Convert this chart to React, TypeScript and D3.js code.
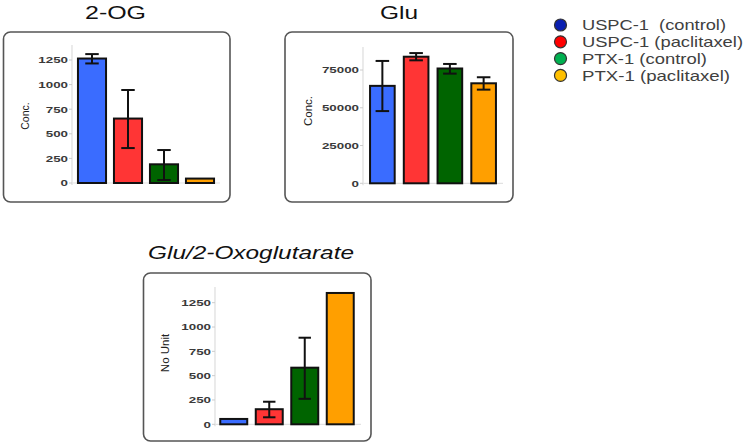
import React from "react";
import * as d3 from "d3";

const groups = ["USPC-1 (control)", "USPC-1 (paclitaxel)", "PTX-1 (control)", "PTX-1 (paclitaxel)"];
const legendLabels = ["USPC-1  (control)", "USPC-1 (paclitaxel)", "PTX-1 (control)", "PTX-1 (paclitaxel)"];
const legendColors = ["#0a1fb0", "#ff0000", "#00b050", "#ffc000"];
const barColors = ["#3a6cff", "#ff3535", "#006400", "#ff9f00"];

const ogMean = [1265, 655, 190, 45];
const ogLow = [1215, 355, 30, null];
const ogHigh = [1310, 945, 335, null];
const ogTicks = [0, 250, 500, 750, 1000, 1250];

const gluMean = [64500, 83800, 76000, 66200];
const gluLow = [47800, 81400, 72600, 62000];
const gluHigh = [81000, 86200, 79000, 70200];
const gluTicks = [0, 25000, 50000, 75000];

const ratioMean = [55, 155, 582, 1350];
const ratioLow = [null, 72, 262, null];
const ratioHigh = [null, 232, 890, null];
const ratioTicks = [0, 250, 500, 750, 1000, 1250];

const FONT = "Liberation Sans, Arial, sans-serif";

type PanelProps = {
  title: string;
  italic?: boolean;
  titleX: number;
  titleW: number;
  titleY: number;
  box: [number, number, number, number];
  axisX: number;
  y0: number;
  yTopTick: number;
  topTickValue: number;
  axisTop: number;
  bandRange: [number, number];
  padInner: number;
  padOuter: number;
  mean: number[];
  low: (number | null)[];
  high: (number | null)[];
  ticks: number[];
  ylabel: string;
  ylabelX: number;
  ylabelY: number;
  ylabelSize: number;
  gridEnd: number;
  capFrac: number;
};

function Panel(p: PanelProps) {
  const y = d3.scaleLinear().domain([0, p.topTickValue]).range([p.y0, p.yTopTick]);
  const x = d3.scaleBand<string>().domain(groups).range(p.bandRange).paddingInner(p.padInner).paddingOuter(p.padOuter);
  const bw = x.bandwidth();
  const [bx, by, bwid, bh] = p.box;
  return (
    <g>
      <text x={p.titleX} y={p.titleY} textLength={p.titleW} lengthAdjust="spacingAndGlyphs" fontFamily={FONT} fontSize={19} fontStyle={p.italic ? "italic" : "normal"} fill="#111">{p.title}</text>
      <rect x={bx} y={by} width={bwid} height={bh} rx={7} ry={7} fill="#fff" stroke="#555" strokeWidth={1.6} />
      <line x1={p.axisX} x2={p.axisX} y1={p.axisTop} y2={p.y0 + 2} stroke="#ddd" strokeWidth={1.2} />
      <line x1={p.axisX} x2={p.gridEnd} y1={p.y0} y2={p.y0} stroke="#e2e2e2" strokeWidth={1.2} />
      {p.ticks.map((t) => (
        <g key={t}>
          <line x1={p.axisX - 3} x2={p.axisX} y1={y(t)} y2={y(t)} stroke="#ccc" strokeWidth={1} />
          <g transform={`translate(${p.axisX - 4},${y(t)}) scale(1.42,1)`}>
            <text x={0} y={0} dy="0.36em" textAnchor="end" fontFamily={FONT} fontSize={9.4} fontWeight="bold" fill="#3a3a3a">{t}</text>
          </g>
        </g>
      ))}
      <text transform={`translate(${p.ylabelX},${p.ylabelY}) rotate(-90)`} textAnchor="middle" dy="0.35em" fontFamily={FONT} fontSize={p.ylabelSize} fill="#222">{p.ylabel}</text>
      {groups.map((g, i) => {
        const x0 = x(g)!;
        const top = y(p.mean[i]);
        return (
          <rect key={g} x={x0} y={top} width={bw} height={y(0) - top} fill={barColors[i]} stroke="#111" strokeWidth={2} />
        );
      })}
      {groups.map((g, i) => {
        const lo = p.low[i];
        const hi = p.high[i];
        if (lo == null || hi == null) return null;
        const cx = x(g)! + bw / 2;
        const cw = bw * p.capFrac;
        return (
          <g key={g} stroke="#111" strokeWidth={2}>
            <line x1={cx} x2={cx} y1={y(hi)} y2={y(lo)} />
            <line x1={cx - cw / 2} x2={cx + cw / 2} y1={y(hi)} y2={y(hi)} />
            <line x1={cx - cw / 2} x2={cx + cw / 2} y1={y(lo)} y2={y(lo)} />
          </g>
        );
      })}
    </g>
  );
}

const legendWidths = [144, 161, 125, 148];

export default function App() {
  return (
    <svg width={745} height={445} style={{ position: "absolute", left: 0, top: 0, background: "#fff" }}>
      <Panel title="2-OG" titleX={85} titleW={61} titleY={18.5} box={[3.5, 32, 226.5, 170]} axisX={72} y0={183} yTopTick={60} topTickValue={1250} axisTop={45}
        bandRange={[74, 218]} padInner={0.22} padOuter={0.11} mean={ogMean} low={ogLow} high={ogHigh} ticks={ogTicks}
        ylabel="Conc." ylabelX={25} ylabelY={116} ylabelSize={10.5} gridEnd={220} capFrac={0.48} />
      <Panel title="Glu" titleX={380} titleW={38} titleY={18.5} box={[285, 32, 228, 170]} axisX={363} y0={183.3} yTopTick={70} topTickValue={75000} axisTop={47}
        bandRange={[366, 500]} padInner={0.27} padOuter={0.12} mean={gluMean} low={gluLow} high={gluHigh} ticks={gluTicks}
        ylabel="Conc." ylabelX={308} ylabelY={111} ylabelSize={11.5} gridEnd={503} capFrac={0.55} />
      <Panel title="Glu/2-Oxoglutarate" italic titleX={148} titleW={206} titleY={259} box={[143.5, 273, 227.5, 168]} axisX={215} y0={424.3} yTopTick={302.7} topTickValue={1250} axisTop={287}
        bandRange={[216, 358]} padInner={0.24} padOuter={0.12} mean={ratioMean} low={ratioLow} high={ratioHigh} ticks={ratioTicks}
        ylabel="No Unit" ylabelX={165} ylabelY={353} ylabelSize={11.5} gridEnd={361} capFrac={0.46} />
      {legendLabels.map((l, i) => (
        <g key={l}>
          <circle cx={560.5} cy={25 + i * 16.8} r={6} fill={legendColors[i]} stroke="#333" strokeWidth={1.2} />
          <text x={582} y={25 + i * 16.8} dy="0.36em" textLength={legendWidths[i]} lengthAdjust="spacingAndGlyphs" style={{ whiteSpace: "pre" }} fontFamily={FONT} fontSize={14.5} fill="#404040">{l}</text>
        </g>
      ))}
    </svg>
  );
}
